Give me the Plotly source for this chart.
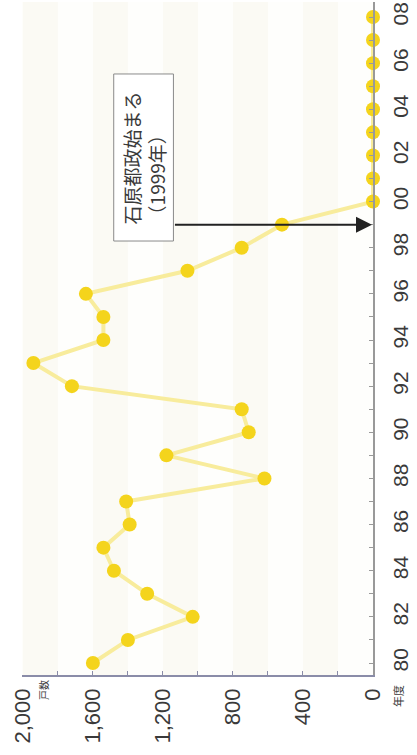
import plotly.graph_objects as go

# Households per fiscal year, 1980-2008
years = list(range(1980, 2009))
households = [1600, 1400, 1030, 1290, 1480, 1540, 1390, 1410, 620, 1180,
              710, 750, 1720, 1940, 1540, 1540, 1640, 1060, 750, 520,
              0, 0, 0, 0, 0, 0, 0, 0, 0]

year_ticks = years
year_labels = [f"{y % 100:02d}" if y % 2 == 0 else "" for y in years]
value_ticks = list(range(0, 2001, 200))
value_labels = [f"{v:,}" if v % 400 == 0 else "" for v in value_ticks]

event_year = 1999
event_text = "石原都政始まる<br>（1999年）"

FONT = "Liberation Sans, Arial, Noto Sans CJK JP, sans-serif"
TEXT = "#3a3a3a"

W, H = 417, 755
L, R, T, B = 22, 44, 2, 80

fig = go.Figure()

# very faint alternating vertical bands behind the plot
for i, v in enumerate(range(0, 2000, 200)):
    fig.add_shape(type="rect", xref="x", yref="paper", x0=v, x1=v + 200, y0=0, y1=1,
                  fillcolor="#fbfaf4" if i % 2 else "#fefefc", line_width=0, layer="below")

fig.add_trace(go.Scatter(
    x=households, y=years, mode="lines+markers",
    line=dict(color="#f8ec9c", width=4),
    marker=dict(color="#f4d41c", size=14),
    cliponaxis=False, showlegend=False,
))

# event label box
fig.add_shape(type="rect", xref="x", yref="y", x0=1481, x1=1140, y0=1998.29, y1=2005.53,
              fillcolor="white", line=dict(color="#8a8a8a", width=1))
fig.add_annotation(
    x=1310, y=2001.9, xref="x", yref="y", text=event_text, showarrow=False,
    textangle=-90, align="left",
    font=dict(family="Noto Sans CJK JP, sans-serif", size=19, color=TEXT),
)
# arrow from the box to the event year
fig.add_annotation(
    x=0, y=event_year, xref="x", yref="y",
    ax=1140, ay=event_year, axref="x", ayref="y",
    text="", showarrow=True, arrowhead=2, arrowsize=1.6, arrowwidth=2,
    arrowcolor="#222222", standoff=1,
)

# unit labels (pixel positions converted to paper coordinates)
def px(x, y):
    return (x - L) / (W - L - R), 1 - (y - T) / (H - T - B)

ux, uy = px(43, 690)
fig.add_annotation(x=ux, y=uy, xref="paper", yref="paper", text="戸数", showarrow=False,
                   xanchor="center", yanchor="middle", textangle=-90,
                   font=dict(family="Noto Sans CJK JP", size=10, color=TEXT))
ux, uy = px(398, 696)
fig.add_annotation(x=ux, y=uy, xref="paper", yref="paper", text="年度", showarrow=False,
                   xanchor="center", yanchor="middle", textangle=-90,
                   font=dict(family="Noto Sans CJK JP", size=11, color=TEXT))

fig.update_layout(
    width=W, height=H, margin=dict(l=L, r=R, t=T, b=B),
    paper_bgcolor="white", plot_bgcolor="#fefefc",
    font=dict(family=FONT, color=TEXT),
    xaxis=dict(range=[2005, 0], tickvals=value_ticks, ticktext=value_labels,
               tickangle=-90, ticks="inside", ticklen=4, tickcolor="#8a8ca8",
               showline=True, linecolor="#8a8ca8", linewidth=1.5,
               showgrid=False, zeroline=False, tickfont=dict(size=22, color=TEXT),
               ticklabelstandoff=3),
    yaxis=dict(range=[1979.48, 2008.65], side="right", tickvals=year_ticks,
               ticktext=year_labels, tickangle=-90, ticks="inside", ticklen=4,
               tickcolor="#999999", showline=True, linecolor="#999999", linewidth=1.5,
               showgrid=False, zeroline=False, tickfont=dict(size=21, color=TEXT),
               ticklabelstandoff=8),
)

fig.write_html("out.html")
